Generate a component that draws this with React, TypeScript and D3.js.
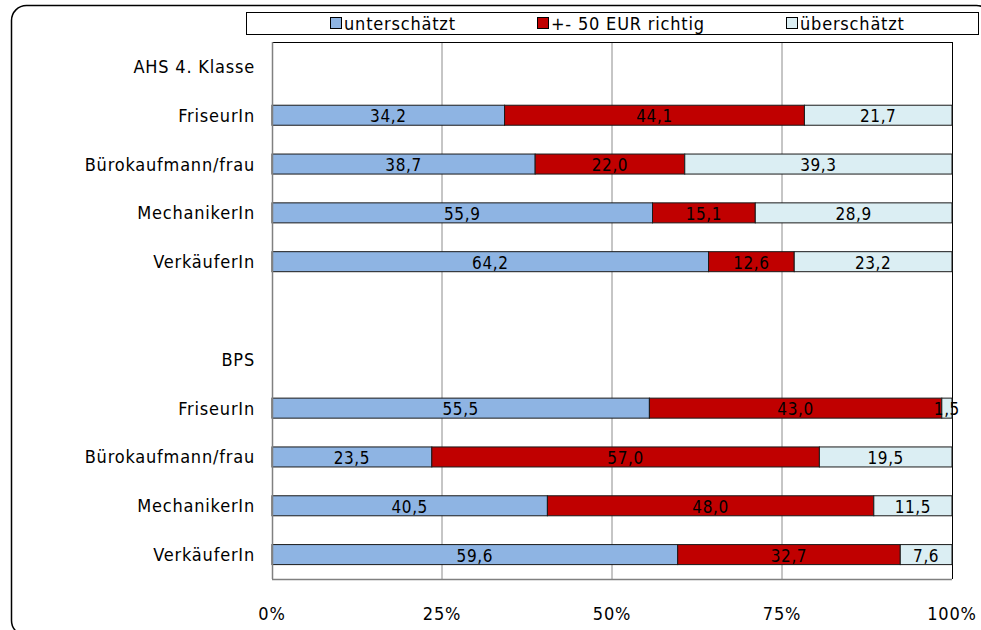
import React from "react";
import * as d3 from "d3";

const categories = [
  "AHS 4. Klasse",
  "AHS|FriseurIn",
  "AHS|Bürokaufmann/frau",
  "AHS|MechanikerIn",
  "AHS|VerkäuferIn",
  "",
  "BPS",
  "BPS|FriseurIn",
  "BPS|Bürokaufmann/frau",
  "BPS|MechanikerIn",
  "BPS|VerkäuferIn",
];
const seriesNames = ["unterschätzt", "+- 50 EUR richtig", "überschätzt"];
const seriesColors = ["#8EB4E3", "#C00000", "#DBEEF3"];
const unterschaetzt: (number | null)[] = [null, 34.2, 38.7, 55.9, 64.2, null, null, 55.5, 23.5, 40.5, 59.6];
const richtig: (number | null)[] = [null, 44.1, 22.0, 15.1, 12.6, null, null, 43.0, 57.0, 48.0, 32.7];
const ueberschaetzt: (number | null)[] = [null, 21.7, 39.3, 28.9, 23.2, null, null, 1.5, 19.5, 11.5, 7.6];
const xTicks = [0, 25, 50, 75, 100];

const W = 981;
const H = 630;
const FONT = "'DejaVu Sans Condensed', 'DejaVu Sans', sans-serif";

export default function App() {
  const left = 272, right = 952, top = 42, bottom = 579;
  const x = d3.scaleLinear().domain([0, 100]).range([left, right]);
  const y = d3.scaleBand<string>().domain(categories.map((c, i) => c + "#" + i)).range([top, bottom]).paddingInner(0.59).paddingOuter(0.295);
  const series = [unterschaetzt, richtig, ueberschaetzt];

  const rows = categories.map((c, i) => {
    const key = c + "#" + i;
    const vals = series.map((s) => s[i]);
    const label = c.includes("|") ? c.split("|")[1] : c;
    return { key, label, vals, i };
  });

  const legendItems = [
    { name: seriesNames[0], sx: 330 },
    { name: seriesNames[1], sx: 537 },
    { name: seriesNames[2], sx: 786 },
  ];

  return (
    <svg width={W} height={H} style={{ position: "absolute", left: 0, top: 0, background: "#fff" }} fontFamily={FONT}>
      <rect x={0} y={0} width={W} height={H} fill="#fff" />
      <rect x={11.5} y={5.5} width={980} height={630} rx={15} ry={15} fill="none" stroke="#000" strokeWidth={1.5} />
      {/* legend */}
      <rect x={246.5} y={12.5} width={732} height={22} fill="#fff" stroke="#000" strokeWidth={1} />
      {legendItems.map((l, k) => (
        <g key={k}>
          <rect x={l.sx + 0.5} y={17.5} width={11} height={11} fill={seriesColors[k]} stroke="#000" strokeWidth={1} />
          <text x={l.sx + 14} y={23} dominantBaseline="central" fontSize={18} letterSpacing={0.8} fill="#000">{l.name}</text>
        </g>
      ))}
      {/* plot area */}
      <rect x={left} y={top} width={right - left} height={bottom - top} fill="#fff" />
      {xTicks.slice(1, -1).map((t) => (
        <line key={t} x1={x(t)} x2={x(t)} y1={top} y2={bottom} stroke="#8c8c8c" strokeWidth={1} />
      ))}
      <line x1={left} x2={right} y1={top + 0.5} y2={top + 0.5} stroke="#000" />
      <line x1={right + 0.5} x2={right + 0.5} y1={top} y2={bottom} stroke="#000" />
      {rows.map((r) => {
        const total = r.vals.reduce((a: number, v) => a + (v ?? 0), 0);
        let cum = 0;
        const by = y(r.key)!;
        const bh = y.bandwidth();
        return (
          <g key={r.key}>
            {r.vals.map((v, k) => {
              if (v == null) return null;
              const x0 = x((cum / total) * 100);
              cum += v;
              const x1 = x((cum / total) * 100);
              return (
                <g key={k}>
                  <rect x={x0} y={by} width={x1 - x0} height={bh} fill={seriesColors[k]} stroke="#1a1a1a" strokeWidth={1} />
                </g>
              );
            })}
          </g>
        );
      })}
      {rows.map((r) => {
        const total = r.vals.reduce((a: number, v) => a + (v ?? 0), 0);
        let cum = 0;
        const cy = y(r.key)! + y.bandwidth() / 2;
        return (
          <g key={"l" + r.key}>
            {r.vals.map((v, k) => {
              if (v == null) return null;
              const mid = x(((cum + v / 2) / total) * 100);
              cum += v;
              return (
                <text key={k} x={mid} y={cy + 1} textAnchor="middle" dominantBaseline="central" fontSize={17} letterSpacing={0.6} fill="#000">
                  {d3.format(".1f")(v).replace(".", ",")}
                </text>
              );
            })}
            {r.label && (
              <text x={255} y={cy} textAnchor="end" dominantBaseline="central" fontSize={18} letterSpacing={0.8} fill="#000">{r.label}</text>
            )}
          </g>
        );
      })}
      <line x1={left + 0.5} x2={left + 0.5} y1={top} y2={bottom} stroke="#808080" strokeWidth={1.5} />
      <line x1={left} x2={right} y1={bottom + 0.5} y2={bottom + 0.5} stroke="#808080" strokeWidth={1.5} />
      {xTicks.map((t) => (
        <text key={t} x={x(t)} y={613} textAnchor="middle" dominantBaseline="central" fontSize={18} letterSpacing={0.8} fill="#000">{t}%</text>
      ))}
    </svg>
  );
}
